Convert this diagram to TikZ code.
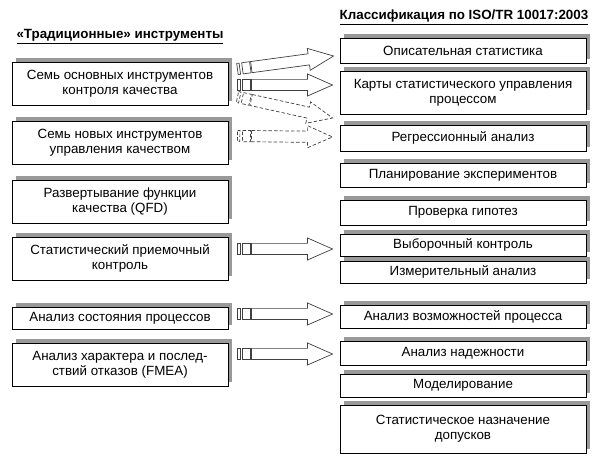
\documentclass[tikz,border=0pt]{standalone}
\usepackage{fontspec}
\setmainfont{Liberation Sans}
\usetikzlibrary{calc,shadows}

\tikzstyle{box} = [rectangle, draw, fill=white, align=center, line width=0.6pt, inner sep=1pt,
  drop shadow={shadow xshift=1mm, shadow yshift=1mm, fill=black!40, opacity=1},
  font=\fontsize{9.5}{10.8}\selectfont]
\tikzstyle{tool} = [box, minimum width=5.4cm, minimum height=10.75mm]
\tikzstyle{method} = [box, minimum width=6.15cm, minimum height=6mm]
\tikzstyle{heading} = [font=\fontsize{9.5}{11}\selectfont\bfseries]
\tikzstyle{solidarrow} = [draw=black!75, fill=white, line width=0.5pt]
\tikzstyle{dasharrow} = [solidarrow, dash pattern=on 2.5pt off 1.5pt]

% striped block arrow from tail (#2) to tip (#3)
\newcommand{\stripedarrow}[3][solidarrow]{%
  \coordinate (sa-b1) at ($(#2)!0.6mm!(#3)$);
  \coordinate (sa-b2) at ($(#2)!1.25mm!(#3)$);
  \coordinate (sa-b3) at ($(#2)!3.25mm!(#3)$);
  \coordinate (sa-s0) at ($(#2)!3.5mm!(#3)$);
  \coordinate (sa-s1) at ($(#3)!6.25mm!(#2)$);
  \draw[#1] ($(#2)!1.4mm!90:(#3)$) -- ($(sa-b1)!1.4mm!90:(#3)$)
    -- ($(sa-b1)!1.4mm!-90:(#3)$) -- ($(#2)!1.4mm!-90:(#3)$) -- cycle;
  \draw[#1] ($(sa-b2)!1.4mm!90:(#3)$) -- ($(sa-b3)!1.4mm!90:(#3)$)
    -- ($(sa-b3)!1.4mm!-90:(#3)$) -- ($(sa-b2)!1.4mm!-90:(#3)$) -- cycle;
  \draw[#1] ($(sa-s0)!1.4mm!90:(#3)$) -- ($(sa-s1)!1.4mm!90:(#3)$)
    -- ($(sa-s1)!2.75mm!90:(#3)$) -- (#3) -- ($(sa-s1)!2.75mm!-90:(#3)$)
    -- ($(sa-s1)!1.4mm!-90:(#3)$) -- ($(sa-s0)!1.4mm!-90:(#3)$) -- cycle;
}

\begin{document}
\begin{tikzpicture}
    [x=0.025cm, y=-0.025cm]
  \useasboundingbox (0,0) rectangle (600,464);
  \node[heading] (tradhead) at (120,37) {\underline{«Традиционные» инструменты}};
  \node[heading] (isohead) at (464,17) {\underline{Классификация по ISO/TR 10017:2003}};
  % traditional tools
  \node[tool] (L1) at (120,83.5) {Семь основных инструментов\\контроля качества};
  \node[tool] (L2) at (120,142.5) {Семь новых инструментов\\управления качеством};
  \node[tool] (L3) at (120,201.5) {Развертывание функции\\качества (QFD)};
  \node[tool] (L4) at (120,258.5) {Статистический приемочный\\контроль};
  \node[tool, minimum height=5.5mm] (L5) at (120,318) {Анализ состояния процессов};
  \node[tool] (L6) at (120,364.5) {Анализ характера и послед-\\ствий отказов (FMEA)};
  % ISO/TR 10017 methods
  \node[method, minimum height=6.25mm] (R1) at (463,50.5) {Описательная статистика};
  \node[method, minimum height=10.75mm] (R2) at (463,92.5) {Карты статистического управления\\процессом};
  \node[method, minimum height=6.5mm] (R3) at (463,138) {Регрессионный анализ};
  \node[method] (R4) at (463,175) {Планирование экспериментов};
  \node[method, minimum height=6.25mm] (R5) at (463,212.5) {Проверка гипотез};
  \node[method, minimum height=5.5mm] (R6) at (463,245) {Выборочный контроль};
  \node[method, minimum height=5.5mm] (R7) at (463,272) {Измерительный анализ};
  \node[method, minimum height=5.75mm] (R8) at (463,316.5) {Анализ возможностей процесса};
  \node[method] (R9) at (463,353) {Анализ надежности};
  \node[method, minimum height=5.75mm] (R10) at (463,385.5) {Моделирование};
  \node[method, minimum height=12mm] (R11) at (463,429) {Статистическое назначение\\допусков};
  % arrow ends
  \coordinate (t1) at ($(L1.east)+(9,-14.5)$);
  \coordinate (t2) at ($(L1.east)+(9,1.5)$);
  \coordinate (t3) at ($(L1.east)+(9,13.5)$);
  \coordinate (t4) at ($(L2.east)+(9,-6.5)$);
  \coordinate (t5) at ($(L4.east)+(9,-9.5)$);
  \coordinate (t6) at ($(L5.east)+(9,-4)$);
  \coordinate (t7) at ($(L6.east)+(9,-10.5)$);
  \coordinate (h1) at ($(R1.west)+(-6,5.5)$);
  \coordinate (h2) at ($(R2.west)+(-7,-7.5)$);
  \coordinate (h3) at ($(R3.west)+(-7,-20)$);
  \coordinate (h4) at ($(R3.west)+(-7,-1)$);
  \coordinate (h5) at ($(R6.west)+(-7,4)$);
  \coordinate (h6) at ($(R8.west)+(-7,-2.5)$);
  \coordinate (h7) at ($(R9.west)+(-7,1)$);
  \stripedarrow{t1}{h1}
  \stripedarrow{t2}{h2}
  \stripedarrow[dasharrow]{t3}{h3}
  \stripedarrow[dasharrow]{t4}{h4}
  \stripedarrow{t5}{h5}
  \stripedarrow{t6}{h6}
  \stripedarrow{t7}{h7}
\end{tikzpicture}
\end{document}
